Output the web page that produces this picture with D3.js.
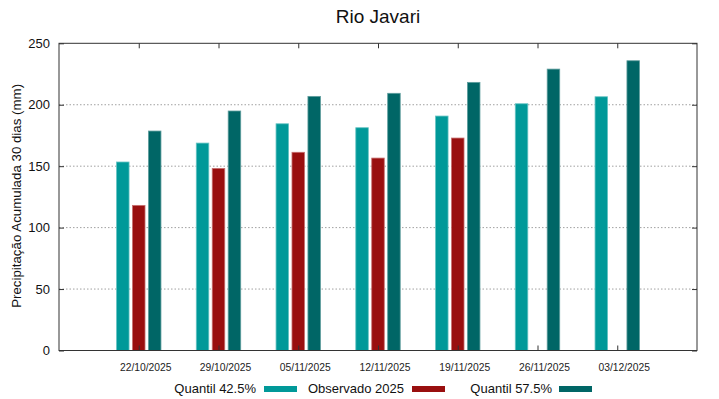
<!DOCTYPE html>
<html><head><meta charset="utf-8">
<script src="https://cdn.jsdelivr.net/npm/d3@7"></script>
<style>body{margin:0;background:#fff}svg{display:block;font-family:"Liberation Sans",Arial,sans-serif}</style>
</head><body><svg id="c" width="719" height="399"></svg>
<script>
const categories = ["22/10/2025","29/10/2025","05/11/2025","12/11/2025","19/11/2025","26/11/2025","03/12/2025"];
const q425 = [153.4, 168.8, 184.5, 181.3, 190.8, 200.8, 206.5];
const observado = [118.1, 148.2, 161.3, 156.6, 172.9, null, null];
const q575 = [178.6, 194.9, 206.8, 209.3, 218.2, 229.0, 235.8];
const yTicks = [0, 50, 100, 150, 200, 250];
const seriesNames = ["Quantil 42.5%", "Observado 2025", "Quantil 57.5%"];
const colors = ["#009999", "#990f0f", "#006666"];
const strokes = ["#66c4c4", "#c77070", "#5f9d9d"];

const svg = d3.select("#c");
const L = 59, R = 697, T = 43.3, B = 350.5;
const x = d3.scaleLinear().domain([-1, categories.length]).range([L, R]);
const y = d3.scaleLinear().domain([0, 250]).range([B, T]);

// grid
const gridVals = yTicks.filter(v => v > 0 && v < 250);
svg.append("g").selectAll("line").data(gridVals).join("line")
  .attr("x1", L).attr("x2", R).attr("y1", d => y(d)).attr("y2", d => y(d))
  .attr("stroke", "#a0a0a0").attr("stroke-width", 1).attr("stroke-dasharray", "1.5,2");

// bars
const series = [q425, observado, q575];
const bw = 0.157, off = [-0.2, 0, 0.2];
series.forEach((s, si) => {
  svg.append("g").selectAll("rect").data(s.map((v, i) => ({v, i})).filter(d => d.v != null)).join("rect")
    .attr("x", d => x(d.i + off[si] - bw / 2))
    .attr("width", x(bw) - x(0))
    .attr("y", d => y(d.v))
    .attr("height", d => y(0) - y(d.v))
    .attr("fill", colors[si]).attr("stroke", strokes[si]).attr("stroke-width", 0.8);
});

// axes ticks (inward)
const tl = 5;
const xAxisB = d3.axisBottom(x).tickValues(d3.range(categories.length)).tickSize(-tl).tickFormat("");
const xAxisT = d3.axisTop(x).tickValues(d3.range(categories.length)).tickSize(-tl).tickFormat("");
const yAxisL = d3.axisLeft(y).tickValues(yTicks).tickSize(-tl).tickPadding(9).tickFormat(d3.format("d"));
const yAxisR = d3.axisRight(y).tickValues(yTicks).tickSize(-tl).tickFormat("");
function style(g){ g.select(".domain").remove(); g.selectAll("line").attr("stroke","#333"); }
svg.append("g").attr("transform", `translate(0,${B})`).call(xAxisB).call(style);
svg.append("g").attr("transform", `translate(0,${T})`).call(xAxisT).call(style);
const gl = svg.append("g").attr("transform", `translate(${L},0)`).call(yAxisL).call(style);
gl.selectAll("text").attr("font-size", 13).attr("fill", "#111").attr("font-family", "Liberation Sans, Arial, sans-serif");
svg.append("g").attr("transform", `translate(${R},0)`).call(yAxisR).call(style);

// x labels
svg.append("g").selectAll("text").data(categories).join("text")
  .attr("x", (d, i) => x(i) + 7).attr("y", 371)
  .attr("text-anchor", "middle").attr("font-size", 10.3).attr("fill", "#222").text(d => d);

// frame
svg.append("rect").attr("x", L).attr("y", T).attr("width", R - L).attr("height", B - T)
  .attr("fill", "none").attr("stroke", "#333").attr("stroke-width", 1);

// title
svg.append("text").attr("x", (L + R) / 2).attr("y", 23).attr("text-anchor", "middle")
  .attr("font-size", 19).attr("fill", "#111").text("Rio Javari");

// y label
svg.append("text").attr("transform", `translate(21,${(T + B) / 2 - 1}) rotate(-90)`)
  .attr("text-anchor", "middle").attr("font-size", 13.3).attr("fill", "#111")
  .text("Precipitação Acumulada 30 dias (mm)");

// legend
const legX = [{tx: 256, sx: 264}, {tx: 404, sx: 412}, {tx: 552, sx: 559}];
seriesNames.forEach((n, i) => {
  svg.append("text").attr("x", legX[i].tx).attr("y", 393).attr("text-anchor", "end")
    .attr("font-size", 13).attr("fill", "#111").text(n);
  svg.append("rect").attr("x", legX[i].sx).attr("y", 386).attr("width", 33).attr("height", 6)
    .attr("fill", colors[i]);
});
</script></body></html>
